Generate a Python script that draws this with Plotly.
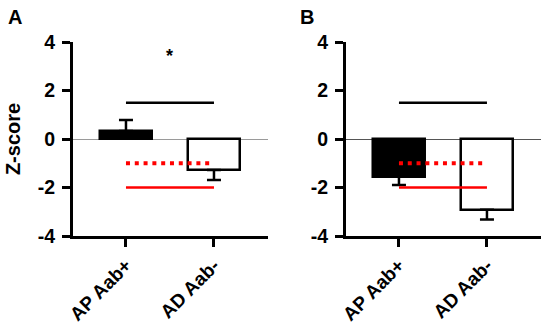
import plotly.graph_objects as go
from plotly.subplots import make_subplots

categories = ["AP Aab+", "AD Aab-"]
# Panel A
a_means = [0.33, -1.28]
a_err_up = [0.45, 0.0]
a_err_down = [0.0, 0.41]
# Panel B
b_means = [-1.55, -2.92]
b_err_up = [0.0, 0.0]
b_err_down = [0.35, 0.40]

sig_line_y = 1.5
red_dot_y = -1.0
red_solid_y = -2.0
a_label = "*"
b_label = "ns"
y_ticks = [-4, -2, 0, 2, 4]

fig = make_subplots(rows=1, cols=2, horizontal_spacing=0.1666)

FONT = "Arial, Liberation Sans, sans-serif"

def add_panel(col, means, eu, ed):
    fig.add_trace(go.Bar(
        x=[0, 1], y=means, width=0.6,
        marker=dict(color=["black", "white"], line=dict(color="black", width=2.5)),
        error_y=dict(type="data", symmetric=False, array=eu, arrayminus=ed,
                     color="black", thickness=2.5, width=7),
        showlegend=False,
    ), row=1, col=col)
    fig.add_trace(go.Scatter(x=[0, 1], y=[sig_line_y, sig_line_y], mode="lines",
                             line=dict(color="black", width=2.5), showlegend=False),
                  row=1, col=col)
    fig.add_trace(go.Scatter(x=[0, 1], y=[red_dot_y, red_dot_y], mode="lines",
                             line=dict(color="#ff0000", width=4, dash="4px,4.8px"),
                             showlegend=False), row=1, col=col)
    fig.add_trace(go.Scatter(x=[0, 1], y=[red_solid_y, red_solid_y], mode="lines",
                             line=dict(color="#ff0000", width=2.5), showlegend=False),
                  row=1, col=col)

add_panel(1, a_means, a_err_up, a_err_down)
add_panel(2, b_means, b_err_up, b_err_down)

bold = lambda s: f"<b>{s}</b>"

for col, zc in ((1, "#9a9a9a"), (2, "#555555")):
    fig.update_xaxes(range=[-0.602, 1.614], tickvals=[0, 1],
                     ticktext=[bold(c) for c in categories],
                     tickangle=-45, ticks="outside", ticklen=8, tickwidth=2.5,
                     tickcolor="black", showline=True, linecolor="black", linewidth=3,
                     showgrid=False, zeroline=False, automargin=False,
                     tickfont=dict(family=FONT, size=19, color="black"),
                     row=1, col=col)
    fig.update_yaxes(range=[-4, 4], tickvals=y_ticks,
                     ticktext=[bold(v) for v in y_ticks], ticks="outside", ticklen=8,
                     tickwidth=2.5, tickcolor="black", showline=True, linecolor="black",
                     linewidth=3, showgrid=False, zeroline=True, zerolinecolor=zc,
                     zerolinewidth=1, automargin=False, ticklabelstandoff=3,
                     tickfont=dict(family=FONT, size=19.5, color="black"),
                     row=1, col=col)

fig.update_xaxes(domain=[0, 0.4167], row=1, col=1)
fig.update_xaxes(domain=[0.5833, 1], row=1, col=2)

fig.add_annotation(x=0.49, y=3.44, xref="x", yref="y", text=bold(a_label), showarrow=False,
                   xanchor="center", yanchor="middle",
                   font=dict(family=FONT, size=18, color="black"))
fig.add_annotation(x=0.5, y=4.16, xref="x2", yref="y2", text=bold(b_label), showarrow=False,
                   xanchor="center", yanchor="middle",
                   font=dict(family=FONT, size=20, color="black"))
fig.add_annotation(x=-0.124, y=1.128, xref="paper", yref="paper", text=bold("A"),
                   showarrow=False, xanchor="center", yanchor="middle",
                   font=dict(family=FONT, size=20, color="black"))
fig.add_annotation(x=0.5, y=1.128, xref="paper", yref="paper", text=bold("B"),
                   showarrow=False, xanchor="center", yanchor="middle",
                   font=dict(family=FONT, size=20, color="black"))
fig.add_annotation(x=-0.128, y=0.5, xref="paper", yref="paper", text=bold("Z-score"),
                   textangle=-90, showarrow=False, xanchor="center", yanchor="middle",
                   font=dict(family=FONT, size=20, color="black"))

fig.update_layout(width=546, height=325, margin=dict(l=73, r=5, t=42, b=89),
                  plot_bgcolor="white", paper_bgcolor="white", bargap=0)

fig.write_html("out.html", config={"displayModeBar": False},
               post_script="document.body.style.margin='0';")
